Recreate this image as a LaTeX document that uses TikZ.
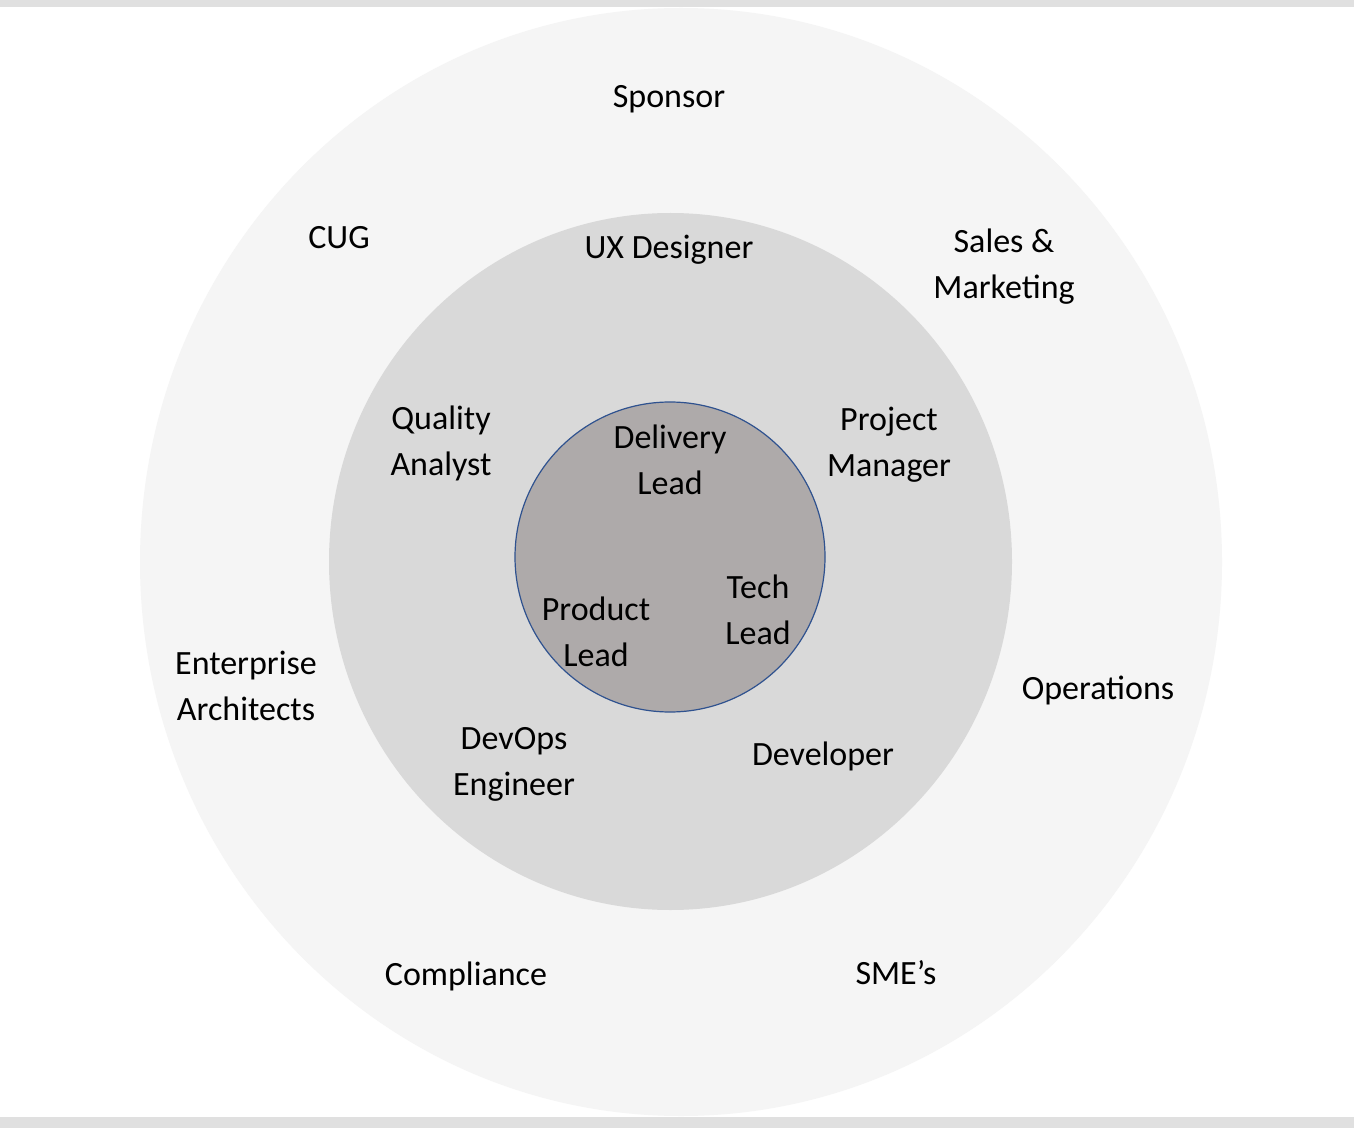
\documentclass[tikz,border=0pt]{standalone}
\usepackage{fontspec}
\setmainfont{Carlito}
\begin{document}
\begin{tikzpicture}[x=0.5pt,y=-0.5pt,
    role/.style={font=\fontsize{17}{23}\selectfont, align=center, inner sep=0pt}]
    \useasboundingbox (0,0) rectangle (1354,1128);
    \fill[white] (0,0) rectangle (1354,1128);
    \fill[black!12] (0,0) rectangle (1354,7);
    \fill[black!12] (0,1117) rectangle (1354,1128);
    % rings
    \fill[black!4] (681,562) ellipse [x radius=541, y radius=554];
    \fill[black!15] (670.5,561.5) ellipse [x radius=341.5, y radius=348.5];
    \draw[fill={rgb,255:red,174;green,170;blue,170}, draw={rgb,255:red,47;green,82;blue,143}, line width=0.6pt]
        (670,557) circle (155);
    % outer ring
    \node[role] (spon) at (669,99) {Sponsor};
    \node[role] (cug) at (339,238) {CUG};
    \node[role] (sales) at (1004,267) {Sales \&\\Marketing};
    \node[role] (ea) at (246,686) {Enterprise\\Architects};
    \node[role] (ops) at (1098,690) {Operations};
    \node[role] (comp) at (466,976) {Compliance};
    \node[role] (sme) at (896,973) {SME’s};
    % middle ring
    \node[role] (ux) at (669,250) {UX Designer};
    \node[role] (qa) at (441,443) {Quality\\Analyst};
    \node[role] (pm) at (889,445) {Project\\Manager};
    \node[role] (devops) at (514,764) {DevOps\\Engineer};
    \node[role] (dev) at (823,756) {Developer};
    % core
    \node[role] (dl) at (670,460) {Delivery\\Lead};
    \node[role] (po) at (596,632) {Product\\Lead};
    \node[role] (tl) at (758,610) {Tech\\Lead};
\end{tikzpicture}
\end{document}
